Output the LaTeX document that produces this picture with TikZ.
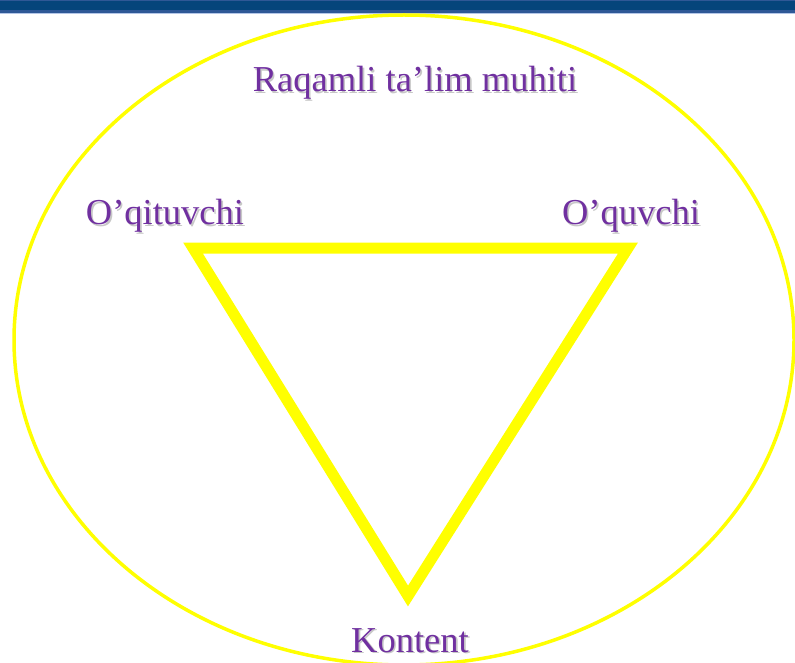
\documentclass[tikz,border=0pt]{standalone}
\usepackage{fontspec}
\setmainfont{Liberation Serif}
\definecolor{txtpurple}{HTML}{7030A0}
\definecolor{bandblue}{HTML}{05457B}
\definecolor{bandlight}{HTML}{2F5896}
\definecolor{bandedge}{HTML}{B4C6E7}
\definecolor{ylw}{HTML}{FFFF00}
\tikzset{
  lbl/.style={font=\fontsize{36.5}{40}\selectfont, text=txtpurple, anchor=base, inner sep=0pt},
  shd/.style={font=\fontsize{36.5}{40}\selectfont, text=black!22, anchor=base, inner sep=0pt},
}
\newcommand{\shlabel}[4]{%
  \node[shd] at ([xshift=1.6pt,yshift=-1.6pt]#2,#3) {#4};
  \node[lbl] (#1) at (#2,#3) {#4};}
\begin{document}
\begin{tikzpicture}[x=1pt,y=-1pt]
\useasboundingbox (0,0) rectangle (795,663);
\begin{scope}
\clip (0,0) rectangle (795,663);
% top band
\fill[bandblue] (0,0) rectangle (795,14);
\fill[bandlight] (0,0) rectangle (795,1.5);
\fill[bandlight] (0,10) rectangle (795,13);
\fill[bandedge] (0,13) rectangle (795,14.5);
% ellipse
\draw[ylw, line width=3.5pt] (404,340) ellipse [x radius=390, y radius=325];
% triangle
\coordinate (tl) at (193,248);
\coordinate (tr) at (628,248);
\coordinate (bt) at (408,596);
\draw[ylw, line width=11pt, line join=miter] (tl) -- (tr) -- (bt) -- cycle;
% labels
\shlabel{env}{415}{92}{Raqamli ta’lim muhiti}
\shlabel{teacher}{165}{225}{O’qituvchi}
\shlabel{student}{631}{225}{O’quvchi}
\shlabel{content}{410}{652}{Kontent}
\end{scope}
\end{tikzpicture}
\end{document}
